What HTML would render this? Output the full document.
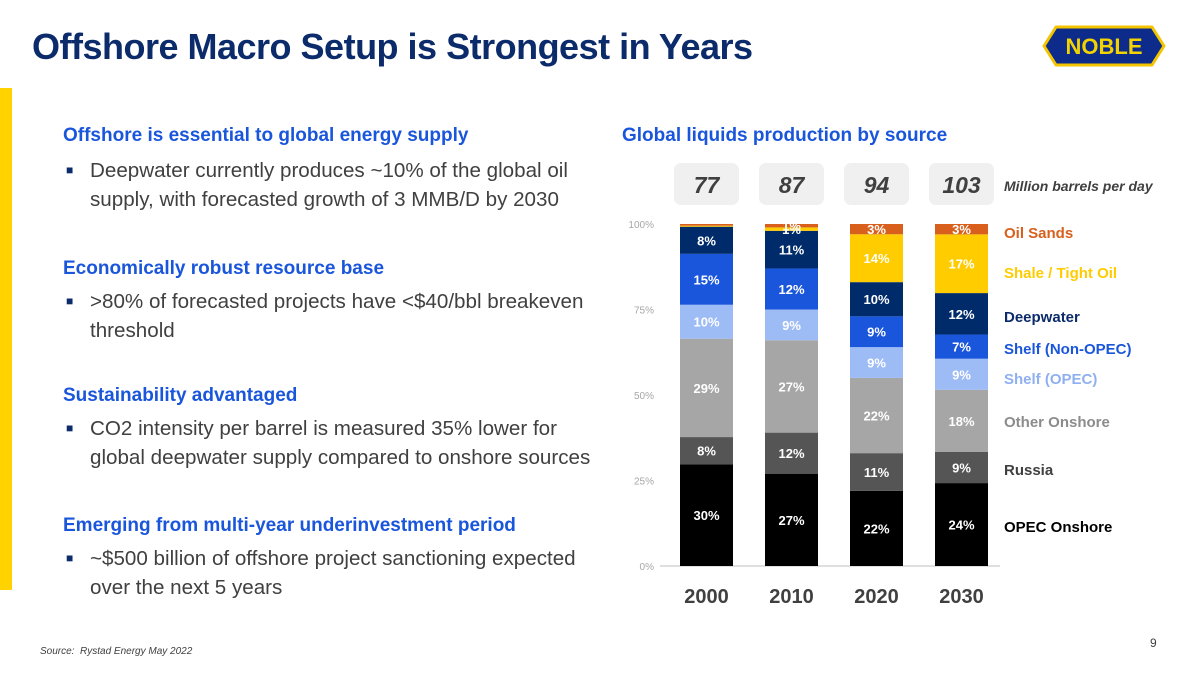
<!DOCTYPE html>
<html><head><meta charset="utf-8">
<style>
body{margin:0;width:1200px;height:675px;overflow:hidden;background:#fff;font-family:"Liberation Sans",sans-serif;position:relative}
.a{position:absolute;white-space:nowrap}
.h{color:#1a56db;font-weight:bold;font-size:19px}
.t{color:#404040;font-size:20.6px}
.b{color:#0c2b6b;font-size:12px;display:inline-block;width:24px;vertical-align:3px}
</style></head><body>
<div class="a" style="left:0;top:88px;width:12px;height:502px;background:#ffd200"></div>
<div class="a" style="left:32px;top:26px;font-size:36px;font-weight:bold;color:#0c2b6b;letter-spacing:-0.5px">Offshore Macro Setup is Strongest in Years</div>
<svg class="a" style="left:1042px;top:23px" width="124" height="46" viewBox="0 0 124 46">
<path d="M14 4 L110 4 L122 23 L110 42 L14 42 L2 23 Z" fill="#0c2b8b" stroke="#f2c500" stroke-width="3" stroke-linejoin="round"/>
<text x="62" y="31" text-anchor="middle" font-family="Liberation Sans" font-weight="bold" font-size="22" fill="#f2d200">NOBLE</text>
</svg>

<div class="a h" style="left:63px;top:125px">Offshore is essential to global energy supply</div>
<div class="a t" style="left:66px;top:156px;line-height:29px"><span class="b">■</span>Deepwater currently produces ~10% of the global oil<br><span style="padding-left:24px">supply, with forecasted growth of 3 MMB/D by 2030</span></div>
<div class="a h" style="left:63px;top:258px">Economically robust resource base</div>
<div class="a t" style="left:66px;top:287px;line-height:29px"><span class="b">■</span>&gt;80% of forecasted projects have &lt;$40/bbl breakeven<br><span style="padding-left:24px">threshold</span></div>
<div class="a h" style="left:63px;top:385px">Sustainability advantaged</div>
<div class="a t" style="left:66px;top:414px;line-height:29px"><span class="b">■</span>CO2 intensity per barrel is measured 35% lower for<br><span style="padding-left:24px">global deepwater supply compared to onshore sources</span></div>
<div class="a h" style="left:63px;top:515px">Emerging from multi-year underinvestment period</div>
<div class="a t" style="left:66px;top:544px;line-height:29px"><span class="b">■</span>~$500 billion of offshore project sanctioning expected<br><span style="padding-left:24px">over the next 5 years</span></div>
<div class="a" style="left:40px;top:646px;font-size:10px;font-style:italic;color:#404040">Source:&nbsp; Rystad Energy May 2022</div>
<div class="a" style="left:1150px;top:636px;font-size:12px;color:#404040">9</div>

<div class="a h" style="left:622px;top:125px">Global liquids production by source</div>

<svg id="chart" class="a" style="left:0;top:0" width="1200" height="675"></svg>
<script>
const years=["2000","2010","2020","2030"];
const totals=["77","87","94","103"];
const seriesNames=["OPEC Onshore","Russia","Other Onshore","Shelf (OPEC)","Shelf (Non-OPEC)","Deepwater","Shale / Tight Oil","Oil Sands"];
const opecOnshore=[30,27,22,24];
const russia=[8,12,11,9];
const otherOnshore=[29,27,22,18];
const shelfOpec=[10,9,9,9];
const shelfNonOpec=[15,12,9,7];
const deepwater=[8,11,10,12];
const shale=[0.3,1,14,17];
const oilSands=[0.5,1,3,3];
const yTicks=[0,25,50,75,100];
const series=[opecOnshore,russia,otherOnshore,shelfOpec,shelfNonOpec,deepwater,shale,oilSands];
const colors=["#000000","#555555","#a6a6a6","#9dbbf5","#1a56db","#002b6b","#ffcc00","#d8601c"];
const legendColors=["#000000","#404040","#8c8c8c","#8fb0f0","#1a56db","#0c2b6b","#ffcc00","#d8601c"];
const legendY=[527,470,422,379,349,317,273,233];
const svg=document.getElementById('chart');
const NS="http://www.w3.org/2000/svg";
const y0=566,y1=224;
const yS=v=>y0-(v/100)*(y0-y1);
const bw=53;
const xS=i=>680+i*85;
function mk(tag,attrs,txt){const e=document.createElementNS(NS,tag);for(const k in attrs)e.setAttribute(k,attrs[k]);if(txt!==undefined)e.textContent=txt;svg.appendChild(e);return e;}
yTicks.forEach(t=>{
 const e=mk('text',{x:654,y:yS(t)+4,'text-anchor':'end','font-size':10,fill:'#a6a6a6','font-family':'Liberation Sans'},t+'%');
 
 
});
const ax=mk('line',{x1:660,x2:1000,y1:y0,y2:y0,stroke:'#bfbfbf','stroke-width':1});


years.forEach((yr,i)=>{
 let tot=0;series.forEach(s=>tot+=s[i]);
 let acc=0;
 series.forEach((s,k)=>{
  const v=s[i]/tot*100;
  const top=yS(acc+v),bot=yS(acc);
  const r=mk('rect',{x:xS(i),y:top,width:bw,height:Math.max(0,bot-top),fill:colors[k]});
  
  
  if(s[i]>=1){
   const lbl=mk('text',{x:xS(i)+bw/2,y:(top+bot)/2+5,'text-anchor':'middle','font-size':13,'font-weight':'bold',fill:'#fff','font-family':'Liberation Sans'},Math.round(s[i])+'%');
   
   
  }
  acc+=v;
 });
 const xl=mk('text',{x:xS(i)+bw/2,y:603,'text-anchor':'middle','font-size':20,'font-weight':'bold',fill:'#404040','font-family':'Liberation Sans'},yr);
 
 
 const bx=mk('rect',{x:xS(i)-6,y:163,width:bw+12,height:42,rx:7,fill:'#f0f0f0'});
 
 
 const tt=mk('text',{x:xS(i)+bw/2,y:193,'text-anchor':'middle','font-size':23,'font-weight':'bold','font-style':'italic',fill:'#404040','font-family':'Liberation Sans'},totals[i]);
 
 
});
const unit=mk('text',{x:1004,y:191,'font-size':14,'font-weight':'bold','font-style':'italic',fill:'#404040','font-family':'Liberation Sans'},'Million barrels per day');


seriesNames.forEach((n,k)=>{
 const l=mk('text',{x:1004,y:legendY[k]+5,'font-size':15,'font-weight':'bold',fill:legendColors[k],'font-family':'Liberation Sans'},n);
 
 
});
</script>
</body></html>
